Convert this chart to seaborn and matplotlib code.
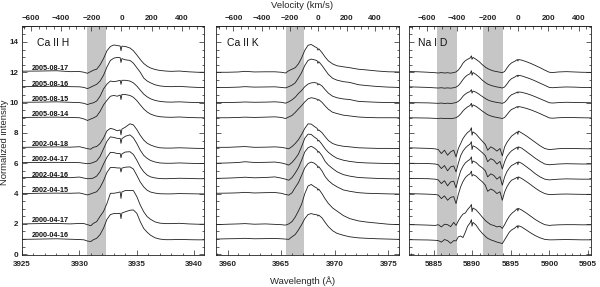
import numpy as np
import pandas as pd
import matplotlib.pyplot as plt
from matplotlib.ticker import MultipleLocator, FixedLocator
import seaborn as sns

C_KMS = 299792.458

# observation dates, top to bottom, and the vertical offset added to each spectrum
dates = ["2005-08-17", "2005-08-16", "2005-08-15", "2005-08-14",
         "2002-04-18", "2002-04-17", "2002-04-16", "2002-04-15",
         "2000-04-17", "2000-04-16"]
offsets = [11, 10, 9, 8, 6, 5, 4, 3, 1, 0]

# ---- Ca II H panel (normalized flux) ----
wave_cah = [3925.0, 3926.5, 3928.0, 3929.2, 3930.0, 3930.4, 3930.7, 3931.0, 3931.2, 3931.5,
            3931.8, 3932.1, 3932.4, 3932.7, 3933.0, 3933.3, 3933.55, 3933.62, 3933.7, 3934.0,
            3934.4, 3934.7, 3935.0, 3935.3, 3935.6, 3935.9, 3936.2, 3936.6, 3937.0, 3937.5,
            3938.0, 3938.7, 3939.5, 3940.3, 3941.0]
cah_050817 = [1.07, 1.08, 1.10, 1.04, 1.05, 1.00, 0.93, 1.05, 1.13, 1.20,
              1.49, 1.90, 2.42, 2.70, 2.80, 2.76, 2.73, 2.42, 2.72, 2.70,
              2.60, 2.42, 2.14, 1.84, 1.58, 1.40, 1.28, 1.18, 1.12, 1.08,
              1.06, 1.08, 1.03, 1.00, 1.00]
cah_050816 = [1.05, 1.06, 1.08, 1.05, 1.04, 1.00, 0.92, 1.02, 1.10, 1.20,
              1.42, 1.80, 2.35, 2.78, 2.93, 2.98, 2.96, 2.64, 2.90, 2.82,
              2.78, 2.60, 2.30, 2.00, 1.62, 1.42, 1.30, 1.17, 1.10, 1.06,
              1.05, 1.07, 1.03, 1.00, 1.00]
cah_050815 = [1.02, 1.03, 1.05, 1.02, 1.00, 0.95, 0.87, 0.95, 0.98, 1.10,
              1.42, 1.90, 2.22, 2.42, 2.38, 2.42, 2.47, 2.20, 2.47, 2.47,
              2.42, 2.30, 2.09, 1.82, 1.56, 1.38, 1.25, 1.14, 1.08, 1.04,
              1.03, 1.05, 1.02, 1.00, 0.99]
cah_050814 = [1.02, 1.03, 1.04, 1.02, 1.00, 0.92, 0.82, 0.92, 0.98, 1.10,
              1.42, 1.85, 2.15, 2.42, 2.47, 2.42, 2.50, 2.20, 2.53, 2.53,
              2.47, 2.35, 2.13, 1.85, 1.58, 1.38, 1.24, 1.13, 1.07, 1.04,
              1.03, 1.05, 1.02, 1.00, 1.00]
cah_020418 = [1.05, 1.06, 1.08, 1.06, 1.09, 1.02, 0.96, 0.93, 1.05, 1.10,
              1.30, 1.66, 2.14, 2.30, 2.24, 2.14, 2.20, 1.87, 2.25, 2.38,
              2.60, 2.53, 2.22, 1.84, 1.53, 1.32, 1.20, 1.09, 1.02, 1.00,
              1.00, 1.02, 1.00, 0.98, 0.98]
cah_020417 = [1.04, 1.05, 1.06, 1.05, 1.04, 1.00, 0.97, 1.00, 1.05, 1.15,
              1.45, 1.95, 2.45, 2.74, 2.70, 2.64, 2.64, 2.31, 2.62, 2.78,
              2.87, 2.68, 2.30, 1.86, 1.52, 1.32, 1.18, 1.08, 1.02, 1.00,
              1.00, 1.02, 1.00, 0.98, 0.98]
cah_020416 = [1.05, 1.06, 1.07, 1.05, 1.09, 1.02, 0.98, 0.99, 1.02, 1.15,
              1.45, 1.95, 2.40, 2.72, 2.70, 2.64, 2.64, 2.36, 2.62, 2.74,
              2.76, 2.58, 2.20, 1.76, 1.44, 1.22, 1.10, 1.03, 0.99, 0.98,
              0.99, 1.01, 1.00, 0.98, 0.98]
cah_020415 = [1.00, 1.02, 1.03, 1.02, 1.04, 0.97, 0.91, 0.98, 1.04, 1.12,
              1.40, 1.85, 2.40, 2.72, 2.72, 2.69, 2.69, 2.42, 2.68, 2.74,
              2.76, 2.62, 2.20, 1.76, 1.44, 1.22, 1.10, 1.03, 0.99, 0.98,
              0.98, 1.00, 0.99, 0.98, 0.98]
cah_000417 = [1.00, 1.02, 1.03, 1.00, 1.03, 1.02, 0.95, 0.88, 1.03, 1.15,
              1.50, 1.82, 2.35, 3.02, 3.02, 3.06, 3.11, 2.68, 3.11, 3.20,
              3.20, 3.20, 2.80, 2.24, 1.80, 1.48, 1.30, 1.13, 1.05, 1.02,
              1.02, 1.04, 1.00, 0.98, 0.98]
cah_000416 = [0.98, 1.00, 1.02, 0.99, 0.97, 0.95, 0.87, 0.84, 0.95, 1.05,
              1.30, 1.72, 2.30, 2.62, 2.68, 2.68, 2.70, 2.35, 2.72, 2.80,
              2.90, 2.92, 2.70, 2.15, 1.70, 1.45, 1.25, 1.08, 1.00, 0.96,
              0.96, 0.98, 0.96, 0.95, 0.95]

# ---- Ca II K panel ----
wave_cak = [3958.9, 3960.0, 3961.0, 3961.6, 3962.5, 3963.5, 3964.4, 3965.0, 3965.4, 3965.7,
            3966.0, 3966.3, 3966.6, 3966.9, 3967.2, 3967.5, 3967.8, 3968.1, 3968.35, 3968.42,
            3968.5, 3968.8, 3969.1, 3969.4, 3969.8, 3970.2, 3970.8, 3971.4, 3972.2, 3973.0,
            3974.0, 3975.0, 3976.0]
cak_050817 = [1.00, 1.00, 1.02, 1.06, 1.02, 1.03, 1.03, 1.00, 0.95, 1.10,
              1.20, 1.30, 1.55, 1.95, 2.45, 2.78, 2.83, 2.70, 2.60, 2.46,
              2.55, 2.30, 2.00, 1.75, 1.55, 1.43, 1.36, 1.30, 1.20, 1.15,
              1.08, 1.03, 1.02]
cak_050816 = [1.00, 1.00, 1.02, 1.05, 1.02, 1.03, 1.04, 1.00, 0.97, 1.05,
              1.15, 1.30, 1.62, 1.98, 2.45, 2.78, 2.87, 2.82, 2.76, 2.59,
              2.70, 2.45, 2.15, 1.86, 1.60, 1.48, 1.38, 1.33, 1.18, 1.12,
              1.06, 1.02, 1.00]
cak_050815 = [1.00, 1.00, 1.02, 1.04, 1.02, 1.03, 1.05, 1.02, 0.96, 1.05,
              1.18, 1.35, 1.60, 1.80, 2.05, 2.22, 2.30, 2.32, 2.28, 2.16,
              2.24, 2.10, 1.85, 1.62, 1.42, 1.32, 1.24, 1.20, 1.08, 1.05,
              1.02, 1.00, 1.00]
cak_050814 = [1.00, 1.00, 1.02, 1.04, 1.02, 1.04, 1.06, 1.02, 0.95, 1.05,
              1.15, 1.35, 1.58, 1.80, 2.05, 2.25, 2.32, 2.28, 2.22, 2.14,
              2.20, 2.02, 1.78, 1.56, 1.36, 1.28, 1.17, 1.12, 1.05, 1.02,
              1.00, 1.00, 1.00]
cak_020418 = [1.05, 1.05, 1.08, 1.10, 1.05, 1.06, 1.08, 1.05, 1.00, 0.95,
              1.10, 1.30, 1.55, 1.90, 2.30, 2.60, 2.58, 2.42, 2.30, 2.15,
              2.20, 2.02, 1.75, 1.50, 1.30, 1.20, 1.12, 1.08, 1.02, 1.00,
              0.98, 0.98, 0.97]
cak_020417 = [1.00, 1.02, 1.05, 1.10, 1.05, 1.06, 1.08, 1.02, 0.95, 0.88,
              1.05, 1.30, 1.60, 2.10, 2.65, 2.92, 2.90, 2.72, 2.60, 2.46,
              2.52, 2.25, 1.95, 1.72, 1.50, 1.33, 1.20, 1.12, 1.05, 1.02,
              1.00, 0.98, 0.97]
cak_020416 = [1.00, 1.02, 1.05, 1.08, 1.04, 1.06, 1.10, 1.02, 0.95, 0.88,
              1.05, 1.35, 1.70, 2.20, 2.75, 3.02, 3.12, 3.00, 2.85, 2.71,
              2.78, 2.50, 2.12, 1.88, 1.65, 1.44, 1.25, 1.15, 1.06, 1.03,
              1.00, 0.98, 0.97]
cak_020415 = [1.02, 1.03, 1.05, 1.08, 1.04, 1.06, 1.07, 1.02, 0.94, 0.90,
              1.05, 1.40, 1.72, 2.20, 2.70, 2.98, 3.08, 3.00, 2.85, 2.70,
              2.78, 2.50, 2.12, 1.86, 1.62, 1.45, 1.24, 1.15, 1.06, 1.02,
              1.00, 0.98, 0.97]
cak_000417 = [0.95, 0.98, 1.00, 1.02, 0.98, 1.00, 0.97, 0.95, 0.92, 1.00,
              1.15, 1.45, 1.85, 2.30, 3.00, 3.50, 3.60, 3.45, 3.35, 3.22,
              3.30, 3.00, 2.65, 2.35, 2.05, 1.85, 1.55, 1.35, 1.20, 1.12,
              1.05, 0.98, 0.95]
cak_000416 = [1.00, 1.02, 1.03, 1.05, 1.02, 1.03, 1.04, 1.02, 1.00, 0.98,
              1.15, 1.30, 1.60, 1.95, 2.35, 2.62, 2.68, 2.62, 2.60, 2.52,
              2.58, 2.40, 2.10, 1.82, 1.55, 1.38, 1.25, 1.15, 1.08, 1.05,
              1.02, 1.00, 0.98]

# ---- Na I D panel ----
wave_nad = [5881.8, 5883.0, 5884.3, 5885.2, 5885.6, 5886.0, 5886.4, 5886.8, 5887.2, 5887.6,
            5887.9, 5888.2, 5888.5, 5888.8, 5889.1, 5889.4, 5889.7, 5889.9, 5889.97, 5890.1,
            5890.5, 5890.9, 5891.3, 5891.7, 5892.0, 5892.4, 5892.8, 5893.2, 5893.6, 5893.9,
            5894.2, 5894.5, 5894.8, 5895.1, 5895.5, 5895.85, 5895.92, 5896.0, 5896.4, 5897.0,
            5897.6, 5898.2, 5898.8, 5899.4, 5900.0, 5900.4, 5901.2, 5902.2, 5903.2, 5904.2,
            5905.4]
nad_050817 = [1.05, 1.03, 1.00, 0.97, 0.95, 0.98, 0.95, 0.97, 0.94, 0.98,
              1.02, 1.15, 1.35, 1.60, 1.76, 1.86, 1.93, 2.08, 1.85, 1.98,
              1.85, 1.70, 1.50, 1.34, 1.24, 1.15, 1.08, 1.04, 1.00, 0.97,
              1.05, 1.28, 1.48, 1.62, 1.72, 1.84, 1.74, 1.84, 1.80, 1.70,
              1.58, 1.44, 1.30, 1.14, 1.00, 0.98, 1.02, 1.04, 1.02, 1.00,
              0.99]
nad_050816 = [1.04, 1.02, 1.00, 0.97, 0.96, 0.98, 0.95, 0.97, 0.95, 0.98,
              1.02, 1.12, 1.30, 1.52, 1.70, 1.82, 1.90, 2.10, 1.80, 1.98,
              1.85, 1.68, 1.48, 1.32, 1.22, 1.14, 1.08, 1.03, 1.00, 0.96,
              1.03, 1.22, 1.44, 1.58, 1.68, 1.80, 1.70, 1.80, 1.76, 1.66,
              1.55, 1.42, 1.28, 1.14, 1.00, 0.98, 1.01, 1.03, 1.02, 1.00,
              0.99]
nad_050815 = [1.00, 0.99, 0.98, 0.96, 0.95, 0.97, 0.94, 0.96, 0.94, 0.97,
              1.00, 1.08, 1.22, 1.42, 1.56, 1.66, 1.72, 1.85, 1.62, 1.76,
              1.68, 1.55, 1.40, 1.27, 1.18, 1.10, 1.05, 1.01, 0.98, 0.95,
              1.02, 1.18, 1.38, 1.52, 1.60, 1.70, 1.62, 1.70, 1.68, 1.60,
              1.50, 1.38, 1.25, 1.12, 0.99, 0.97, 1.00, 1.02, 1.01, 1.00,
              0.99]
nad_050814 = [1.00, 0.99, 0.98, 0.96, 0.95, 0.97, 0.95, 0.96, 0.94, 0.97,
              1.00, 1.10, 1.25, 1.45, 1.60, 1.72, 1.80, 1.95, 1.70, 1.85,
              1.75, 1.60, 1.44, 1.30, 1.20, 1.12, 1.06, 1.02, 0.98, 0.95,
              1.02, 1.20, 1.40, 1.55, 1.64, 1.74, 1.65, 1.74, 1.70, 1.62,
              1.52, 1.40, 1.27, 1.13, 0.99, 0.97, 1.00, 1.02, 1.01, 1.00,
              0.99]
nad_020418 = [1.02, 1.00, 0.98, 0.95, 0.90, 0.64, 0.86, 0.53, 0.75, 0.86,
              0.42, 0.97, 1.30, 1.63, 1.85, 2.03, 2.14, 2.34, 1.85, 2.07,
              1.92, 1.68, 1.46, 1.24, 0.86, 1.08, 0.97, 0.80, 0.97, 0.49,
              1.08, 1.37, 1.59, 1.79, 1.94, 2.07, 1.90, 2.12, 2.00, 1.81,
              1.59, 1.37, 1.15, 0.97, 0.90, 0.92, 0.96, 0.98, 0.97, 0.96,
              0.95]
nad_020417 = [1.00, 0.99, 0.98, 0.95, 0.90, 0.65, 0.85, 0.50, 0.76, 0.82,
              0.43, 1.00, 1.50, 1.80, 2.00, 2.15, 2.25, 2.42, 1.90, 2.15,
              2.05, 1.88, 1.70, 1.50, 1.10, 1.30, 1.20, 0.95, 1.12, 0.62,
              1.10, 1.45, 1.66, 1.82, 1.95, 2.06, 1.90, 2.08, 2.00, 1.78,
              1.55, 1.32, 1.12, 0.95, 0.90, 0.92, 0.95, 0.97, 0.96, 0.95,
              0.95]
nad_020416 = [1.00, 0.99, 0.98, 0.95, 0.90, 0.66, 0.85, 0.51, 0.77, 0.82,
              0.38, 1.00, 1.50, 1.80, 2.02, 2.15, 2.25, 2.42, 1.98, 2.15,
              2.05, 1.85, 1.70, 1.50, 1.10, 1.30, 1.20, 0.95, 1.12, 0.55,
              1.10, 1.45, 1.68, 1.85, 1.96, 2.07, 1.90, 2.09, 2.00, 1.78,
              1.55, 1.30, 1.10, 0.95, 0.90, 0.92, 0.95, 0.97, 0.96, 0.95,
              0.95]
nad_020415 = [1.00, 0.98, 0.96, 0.94, 0.90, 0.67, 0.85, 0.56, 0.75, 0.80,
              0.34, 0.95, 1.45, 1.80, 2.05, 2.20, 2.30, 2.48, 2.15, 2.25,
              2.15, 1.95, 1.78, 1.55, 1.15, 1.30, 1.20, 1.00, 1.12, 0.56,
              1.10, 1.45, 1.70, 1.88, 1.98, 2.08, 1.92, 2.10, 2.00, 1.80,
              1.58, 1.35, 1.15, 1.00, 0.93, 0.94, 0.96, 0.97, 0.96, 0.95,
              0.95]
nad_000417 = [0.95, 0.94, 0.92, 0.90, 0.95, 0.80, 0.98, 0.95, 0.82, 1.10,
              0.90, 1.20, 1.45, 1.65, 1.72, 1.95, 2.12, 2.28, 1.80, 2.05,
              1.92, 1.70, 1.45, 1.22, 1.10, 0.95, 0.90, 0.80, 0.85, 0.70,
              0.95, 1.25, 1.50, 1.68, 1.85, 2.02, 1.85, 2.02, 1.92, 1.72,
              1.50, 1.28, 1.10, 0.95, 0.90, 0.92, 0.94, 0.95, 0.95, 0.94,
              0.94]
nad_000416 = [0.96, 0.95, 0.94, 0.92, 0.90, 0.80, 0.97, 0.90, 0.72, 0.90,
              0.88, 1.15, 1.20, 1.10, 1.45, 1.85, 2.05, 2.28, 1.85, 2.10,
              1.92, 1.62, 1.38, 1.18, 1.05, 0.95, 0.88, 0.80, 0.75, 0.70,
              0.95, 1.20, 1.45, 1.60, 1.72, 1.88, 1.72, 1.88, 1.80, 1.60,
              1.40, 1.22, 1.08, 0.98, 0.95, 0.95, 0.96, 0.97, 0.96, 0.95,
              0.95]

# shaded velocity window (km/s) and velocity tick labels
band_kms = [-230, -100]
vel_ticks = [-600, -400, -200, 0, 200, 400]

panels = [
    dict(name="Ca II H", wave=wave_cah, lam0=3933.66, lines=[3933.66], xlim=(3925, 3940.85),
         flux=[cah_050817, cah_050816, cah_050815, cah_050814, cah_020418,
               cah_020417, cah_020416, cah_020415, cah_000417, cah_000416],
         pos=[22, 182], namex=0.08),
    dict(name="Ca II K", wave=wave_cak, lam0=3968.47, lines=[3968.47], xlim=(3958.9, 3976.0),
         flux=[cak_050817, cak_050816, cak_050815, cak_050814, cak_020418,
               cak_020417, cak_020416, cak_020415, cak_000417, cak_000416],
         pos=[216, 183], namex=0.06),
    dict(name="Na I D", wave=wave_nad, lam0=5895.92, lines=[5889.95, 5895.92], xlim=(5881.8, 5905.4),
         flux=[nad_050817, nad_050816, nad_050815, nad_050814, nad_020418,
               nad_020417, nad_020416, nad_020415, nad_000417, nad_000416],
         pos=[409, 182], namex=0.05),
]

sns.set_theme(style="ticks")
plt.rcParams["font.family"] = ["Liberation Sans", "DejaVu Sans"]

W, H = 600, 287
fig = plt.figure(figsize=(6, 2.87), dpi=100)

tick_font = dict(fontsize=5.8, fontweight="bold")

for i, p in enumerate(panels):
    ax = fig.add_axes([p["pos"][0] / W, 32 / H, p["pos"][1] / W, 229 / H])

    frames = []
    for d, off, fl in zip(dates, offsets, p["flux"]):
        frames.append(pd.DataFrame({"wave": p["wave"],
                                    "intensity": np.array(fl) + off,
                                    "date": d}))
    df = pd.concat(frames, ignore_index=True)

    for lam in p["lines"]:
        lo = lam * (1 + band_kms[0] / C_KMS)
        hi = lam * (1 + band_kms[1] / C_KMS)
        ax.axvspan(lo, hi, color="#c6c6c6", lw=0, zorder=0)

    sns.lineplot(data=df, x="wave", y="intensity", units="date", estimator=None,
                 color="#1e1e1e", linewidth=0.6, sort=False, legend=False, ax=ax)

    ax.set_xlim(*p["xlim"])
    ax.set_ylim(-0.05, 15.05)
    ax.set_xlabel("")
    ax.set_ylabel("")

    ax.xaxis.set_major_locator(MultipleLocator(5))
    ax.xaxis.set_minor_locator(MultipleLocator(1))
    ax.yaxis.set_major_locator(MultipleLocator(2))
    ax.yaxis.set_minor_locator(MultipleLocator(0.5))
    ax.tick_params(which="both", direction="in", left=True, right=True,
                   bottom=True, top=False, width=0.5, colors="#222222")
    ax.tick_params(which="major", length=3.5)
    ax.tick_params(which="minor", length=1.8)
    ax.tick_params(axis="x", pad=4.5)
    for lab in ax.get_xticklabels():
        lab.set(**tick_font)
    if i == 0:
        for lab in ax.get_yticklabels():
            lab.set(**tick_font)
        ax.tick_params(axis="y", pad=2.5)
    else:
        ax.set_yticklabels([])

    for s in ax.spines.values():
        s.set_linewidth(0.6)
        s.set_color("#222222")

    lam0 = p["lam0"]
    sec = ax.secondary_xaxis(
        "top",
        functions=(lambda w, l0=lam0: (w - l0) / l0 * C_KMS,
                   lambda v, l0=lam0: l0 * (1 + v / C_KMS)))
    sec.xaxis.set_major_locator(FixedLocator(vel_ticks))
    sec.xaxis.set_minor_locator(MultipleLocator(50))
    sec.tick_params(which="both", direction="in", width=0.5, colors="#222222", pad=3)
    sec.tick_params(which="major", length=3.5)
    sec.tick_params(which="minor", length=1.8)
    sec.spines["top"].set_linewidth(0.6)
    for lab in sec.get_xticklabels():
        lab.set(**tick_font)

    ax.text(p["namex"], 0.925, p["name"], transform=ax.transAxes,
            fontsize=7.5, va="center", ha="left", color="#111111")

    if i == 0:
        for d, off in zip(dates, offsets):
            ax.text(3925.85, off + 1.22, d, fontsize=5.2, fontweight="bold",
                    va="center", ha="left", color="#111111")

fig.text(0.503, 1 - 5 / H, "Velocity (km/s)", fontsize=6.8, ha="center", va="center")
fig.text(0.505, 1 - 281 / H, "Wavelength (Å)", fontsize=6.8, ha="center", va="center")
fig.text(5 / W, 1 - 142 / H, "Normalized intensity", fontsize=6.8, rotation=90,
         ha="center", va="center")

fig.savefig("out.png", dpi=100)
